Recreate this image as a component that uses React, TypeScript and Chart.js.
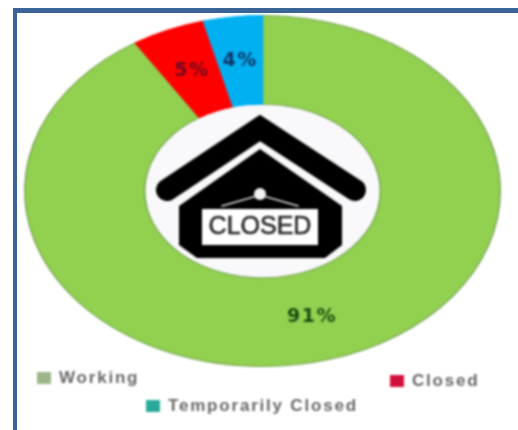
import React, { useEffect, useRef } from "react";
import { Chart, registerables } from "chart.js";

Chart.register(...registerables);

const categories = ["Working", "Closed", "Temporarily Closed"];
const shares = [91, 5, 4];
const fills = ["#92d050", "#ff0000", "#00b0f0"];
const edges = ["#76a355", "#ff0000", "#00b0f0"];
const labelColors = ["#184e10", "#700a20", "#123468"];
const swatches = ["#9cb58a", "#d2103c", "#2aa898"];
const legendSpots = [
  [37, 372],
  [390, 375],
  [146, 400],
];
const STRETCH = 238.5 / 176;

const stretchPlugin = {
  id: "stretch",
  beforeDatasetsDraw(chart: any) {
    const { ctx } = chart;
    const arc = chart.getDatasetMeta(0).data[0];
    ctx.save();
    ctx.translate(arc.x, arc.y);
    ctx.scale(STRETCH, 1);
    ctx.translate(-arc.x, -arc.y);
    ctx.fillStyle = "#f9f9fb";
    ctx.beginPath();
    ctx.arc(arc.x, arc.y, arc.innerRadius, 0, Math.PI * 2);
    ctx.fill();
  },
  afterDatasetsDraw(chart: any) {
    chart.ctx.restore();
  },
};

const labelPlugin = {
  id: "sliceLabels",
  afterDatasetsDraw(chart: any) {
    const { ctx } = chart;
    ctx.save();
    ctx.textAlign = "center";
    ctx.textBaseline = "middle";
    ctx.font = "bold 19px 'DejaVu Sans'";
    (ctx as any).letterSpacing = "1.5px";
    chart.getDatasetMeta(0).data.forEach((arc: any, i: number) => {
      const p = arc.getCenterPoint();
      const x = arc.x + (p.x - arc.x) * STRETCH;
      ctx.fillStyle = labelColors[i];
      ctx.fillText(`${shares[i]}%`, x, p.y);
    });
    ctx.restore();
  },
};

const legendPlugin = {
  id: "looseLegend",
  afterDraw(chart: any) {
    const { ctx } = chart;
    ctx.save();
    ctx.textBaseline = "middle";
    ctx.textAlign = "left";
    ctx.font = "bold 17px 'Liberation Sans'";
    (ctx as any).letterSpacing = "1.8px";
    categories.forEach((name, i) => {
      const [x, y] = legendSpots[i];
      ctx.fillStyle = swatches[i];
      ctx.fillRect(x, y, 14, 12);
      ctx.fillStyle = "#666666";
      ctx.fillText(name, x + 22, y + 6);
    });
    ctx.restore();
  },
};

const housePlugin = {
  id: "house",
  afterDraw(chart: any) {
    const { ctx } = chart;
    ctx.save();
    ctx.strokeStyle = "#000";
    ctx.lineWidth = 22;
    ctx.lineCap = "round";
    ctx.lineJoin = "miter";
    ctx.beginPath();
    ctx.moveTo(167, 190);
    ctx.lineTo(260, 128);
    ctx.lineTo(355, 190);
    ctx.stroke();

    ctx.fillStyle = "#000";
    ctx.beginPath();
    ctx.moveTo(260, 149);
    ctx.lineTo(342, 206);
    ctx.lineTo(342, 245);
    ctx.lineTo(325, 258);
    ctx.lineTo(197, 258);
    ctx.lineTo(179, 245);
    ctx.lineTo(179, 206);
    ctx.closePath();
    ctx.fill();

    ctx.fillStyle = "#fff";
    ctx.fillRect(202, 209, 116, 36);
    ctx.strokeStyle = "#ddd";
    ctx.lineWidth = 1.6;
    ctx.beginPath();
    ctx.moveTo(222, 206);
    ctx.lineTo(260, 195);
    ctx.lineTo(298, 206);
    ctx.stroke();
    ctx.fillStyle = "#f2f2f2";
    ctx.beginPath();
    ctx.arc(260, 194, 6, 0, Math.PI * 2);
    ctx.fill();

    ctx.fillStyle = "#2a2a2a";
    ctx.strokeStyle = "#2a2a2a";
    ctx.lineWidth = 0.6;
    ctx.font = "25px 'Liberation Sans'";
    ctx.textAlign = "center";
    ctx.textBaseline = "middle";
    ctx.fillText("CLOSED", 260, 227);
    ctx.strokeText("CLOSED", 260, 227);
    ctx.restore();
  },
};

export default function App() {
  const ref = useRef<HTMLCanvasElement>(null);
  useEffect(() => {
    const chart = new Chart(ref.current!, {
      type: "doughnut",
      data: {
        labels: categories,
        datasets: [
          {
            data: shares,
            backgroundColor: fills,
            borderColor: edges,
            borderWidth: 1,
          },
        ],
      },
      options: {
        responsive: false,
        animation: false,
        cutout: "49.5%",
        layout: { padding: { top: 15, bottom: 63, left: 86.5, right: 79.5 } },
        plugins: { legend: { display: false }, tooltip: { enabled: false } },
      },
      plugins: [stretchPlugin, labelPlugin, legendPlugin, housePlugin],
    } as any);
    return () => chart.destroy();
  }, []);
  return (
    <div style={{ position: "fixed", inset: 0, overflow: "hidden", background: "#fff" }}>
      <div
        style={{
          position: "absolute",
          left: 13,
          top: 8,
          right: 0,
          bottom: 0,
          borderLeft: "4px solid #3a6496",
          borderTop: "5px solid #3a6496",
        }}
      />
      <canvas
        ref={ref}
        width={518}
        height={430}
        style={{ position: "absolute", left: 0, top: 0, width: 518, height: 430, filter: "blur(0.9px)" }}
      />
    </div>
  );
}
